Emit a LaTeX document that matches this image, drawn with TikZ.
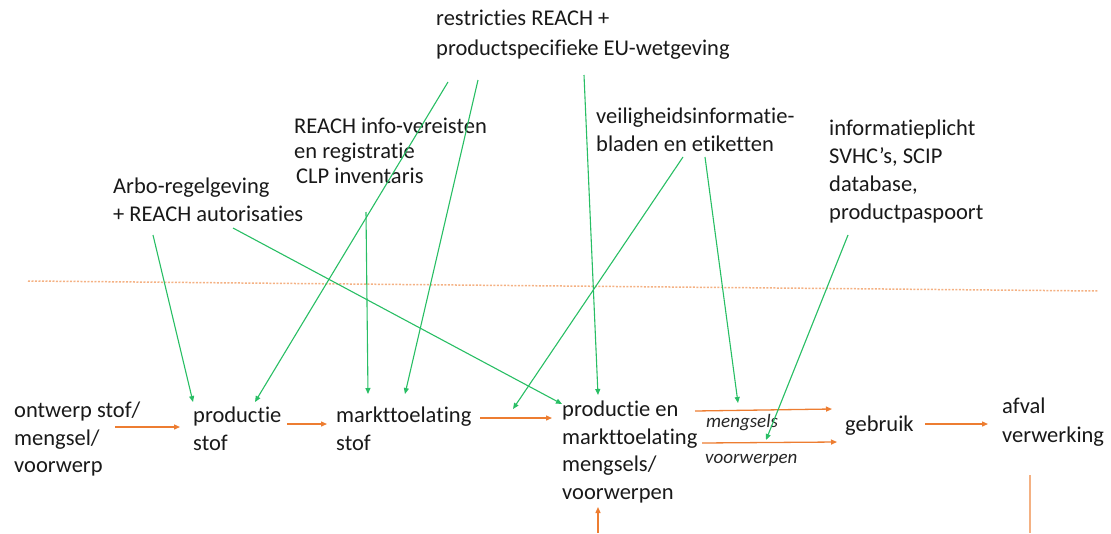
\documentclass[tikz,border=0pt]{standalone}
\usepackage{fontspec}
\setmainfont{Carlito}[RawFeature=-liga]
\usetikzlibrary{arrows.meta, calc}

\definecolor{wetgroen}{RGB}{40,190,100}
\definecolor{ketenoranje}{RGB}{237,125,49}
\definecolor{lichtoranje}{RGB}{244,177,131}

\begin{document}
\begin{tikzpicture}[x=1pt, y=-1pt,
		txt/.style={anchor=north west, inner sep=0pt, align=left, text=black!90, font=\fontsize{22.5}{27.5}\selectfont},
		lbl/.style={anchor=north west, inner sep=0pt, text=black!85, font=\fontsize{19}{22}\selectfont\itshape},
		regel/.style={draw=wetgroen, line width=1.1pt, -{Triangle[length=6pt,width=5pt]}},
		keten/.style={draw=ketenoranje, line width=1.3pt, -{Triangle[length=6pt,width=5pt]}}]
		\useasboundingbox (0,0) rectangle (1111,533);
		% wetgeving boven
		\node[txt, font=\fontsize{22.5}{30}\selectfont] (restr) at (436,10) {restricties REACH +\\productspecifieke EU-wetgeving};
		\node[txt, font=\fontsize{22.5}{25}\selectfont] (reachinfo) at (294,118) {REACH info-vereisten\\en registratie\\\hspace{2pt}CLP inventaris};
		\node[txt] (arbo) at (113,178) {Arbo-regelgeving\\+ REACH autorisaties};
		\node[txt] (veilig) at (596,108) {veiligheidsinformatie-\\bladen en etiketten};
		\node[txt, font=\fontsize{22.5}{28}\selectfont] (infopl) at (829,120) {informatieplicht\\SVHC’s, SCIP\\database,\\productpaspoort};
		% scheidingslijn
		\draw[lichtoranje, line width=1.5pt, dash pattern=on 2pt off 1.5pt] (28,281) -- (1098,291);
		% keten onder
		\node[txt] (ontwerp) at (14,402) {ontwerp stof/\\mengsel/\\voorwerp};
		\node[txt] (prodstof) at (193,407) {productie\\stof};
		\node[txt] (markt) at (336,407) {markttoelating\\stof};
		\node[txt] (prodmeng) at (562,401) {productie en\\markttoelating\\mengsels/\\voorwerpen};
		\node[txt] (gebruik) at (845,416) {gebruik};
		\node[txt, font=\fontsize{22.5}{29}\selectfont] (afval) at (1002,398) {afval\\verwerking};
		\node[lbl] (lmeng) at (706,414) {mengsels};
		\node[lbl] (lvoor) at (705,454) {voorwerpen};
		\coordinate (instroom) at (598,533);
		\coordinate (uitstroom) at (1030,533);

		\draw[keten] ($(ontwerp.north west)+(101,25)$) -- ($(prodstof.north west)+(-13,20)$);
		\draw[keten] ($(prodstof.north west)+(94,17)$) -- ($(markt.north west)+(-9,17)$);
		\draw[keten] ($(markt.north west)+(144,11)$) -- ($(prodmeng.north west)+(-10,17)$);
		\draw[keten] ($(prodmeng.north west)+(133,10)$) -- ($(gebruik.north west)+(-13,-7)$);
		\draw[keten] ($(prodmeng.north west)+(140,42)$) -- ($(gebruik.north west)+(-8,26)$);
		\draw[keten] ($(gebruik.north west)+(80,8)$) -- ($(afval.north west)+(-14,26)$);
		\draw[keten] (instroom) -- ($(prodmeng.north west)+(36,106)$);
		\draw[lichtoranje, line width=1.5pt] ($(afval.north west)+(28,77)$) -- (uitstroom);

		\draw[regel] ($(arbo.north west)+(40,57)$) -- ($(prodstof.north west)+(0,-5)$);
		\draw[regel] ($(arbo.north west)+(120,50)$) -- ($(prodmeng.north west)+(0,3)$);
		\draw[regel] ($(restr.north west)+(12,72)$) -- ($(prodstof.north west)+(62,-5)$);
		\draw[regel] ($(restr.north west)+(42,70)$) -- ($(markt.north west)+(69,-13)$);
		\draw[regel] ($(restr.north west)+(148,65)$) -- ($(prodmeng.north west)+(36,-6)$);
		\draw[regel] ($(reachinfo.north west)+(72,94)$) -- ($(markt.north west)+(32,-13)$);
		\draw[regel] ($(veilig.north west)+(87,49)$) -- ($(markt.north west)+(177,2)$);
		\draw[regel] ($(veilig.north west)+(109,49)$) -- ($(prodmeng.north west)+(176,2)$);
		\draw[regel] ($(infopl.north west)+(19,115)$) -- ($(prodmeng.north west)+(204,39)$);
	\end{tikzpicture}
\end{document}
